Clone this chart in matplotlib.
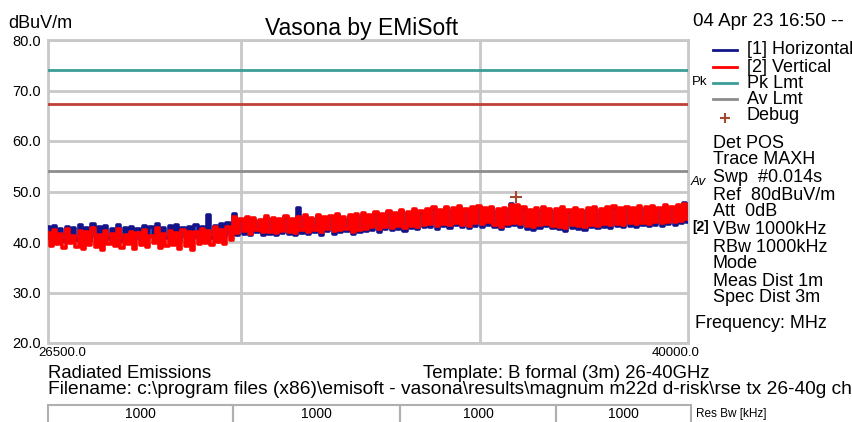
import numpy as np
import matplotlib
matplotlib.use('Agg')
import matplotlib.pyplot as plt
from matplotlib.lines import Line2D
from matplotlib.patches import Rectangle
from matplotlib.ticker import FixedLocator, NullLocator, NullFormatter

plt.rcParams['font.family'] = ['Liberation Sans', 'DejaVu Sans']

# barrido 26.5 - 40 GHz (MHz)
f_start = 26500.0
f_stop = 40000.0
n_puntos = 200

# [2] Vertical (dBuV/m)
vertical = [
    41.8, 39.2, 42.3, 39.6, 41.5, 38.9, 42.6, 39.8, 41.2, 39.0,
    42.1, 38.7, 41.9, 39.5, 42.8, 39.1, 41.4, 38.4, 42.2, 39.7,
    41.6, 39.3, 42.5, 38.9, 41.3, 39.6, 42.0, 38.6, 41.8, 39.4,
    42.4, 39.0, 41.1, 39.8, 42.7, 38.8, 41.5, 39.2, 42.1, 39.5,
    41.7, 38.7, 42.3, 39.3, 41.9, 38.5, 42.0, 39.6, 42.5, 39.8,
    42.2, 39.4, 42.9, 40.0, 42.4, 39.7, 43.0, 40.3,
    44.9, 41.8, 44.6, 42.1, 45.0, 41.6, 44.7, 42.3, 44.4, 41.9,
    45.1, 42.0, 44.8, 41.7, 44.5, 42.2, 45.2, 42.0, 44.6, 41.8,
    45.0, 42.3, 45.3, 42.0, 44.8, 42.4, 45.4, 41.9, 44.9, 42.5,
    45.2, 42.1, 45.6, 42.3, 44.9, 42.6, 45.3, 42.0, 45.5, 42.4,
    45.7, 42.6, 45.4, 42.9, 46.0, 42.5, 45.6, 43.0, 46.2, 42.8,
    45.8, 43.1, 46.4, 42.7, 46.0, 43.2, 46.5, 43.0, 46.1, 43.4,
    46.6, 43.5, 46.9, 43.1, 46.4, 43.6, 47.0, 43.3, 46.7, 43.8,
    47.1, 43.4, 46.6, 43.2, 46.9, 43.7, 47.2, 43.5, 46.8, 43.9,
    47.0, 43.4, 46.5, 43.0, 46.8, 43.6, 47.3, 43.8, 47.4, 43.5,
    46.9, 43.1, 46.4, 42.9, 46.7, 43.3, 47.0, 43.6, 46.6, 43.2,
    46.5, 43.0, 46.9, 42.8, 46.3, 43.3, 46.8, 43.1, 46.4, 42.9,
    46.7, 43.4, 47.0, 43.2, 46.6, 43.5, 46.9, 43.3, 47.1, 43.6,
    46.8, 43.4, 47.0, 43.7, 46.7, 43.5, 47.1, 43.8, 46.9, 43.6,
    47.2, 43.9, 46.8, 43.7, 47.3, 44.0, 47.0, 43.9, 47.4, 44.2,
    47.6, 44.5,
]

# [1] Horizontal (dBuV/m)
horizontal = [
    42.9, 40.5, 43.2, 40.8, 42.6, 40.2, 43.0, 41.0, 42.8, 40.4,
    43.3, 40.7, 42.7, 40.1, 43.5, 40.9, 42.9, 40.3, 43.1, 40.6,
    42.5, 40.8, 43.4, 40.2, 42.8, 40.9, 43.0, 40.5, 42.6, 40.3,
    43.2, 40.7, 42.9, 41.0, 43.6, 40.4, 42.7, 40.8, 43.1, 40.6,
    43.3, 40.2, 42.8, 40.9, 43.0, 40.5, 43.4, 40.7, 42.9, 41.1,
    45.3, 40.8, 43.2, 41.0, 43.6, 40.9, 43.8, 41.4,
    45.5, 41.4, 44.3, 41.6, 44.6, 41.3, 44.4, 41.9, 44.1, 41.4,
    44.8, 41.5, 44.5, 41.3, 44.2, 41.7, 44.9, 41.6, 44.3, 41.3,
    46.7, 41.8, 45.0, 41.5, 44.5, 42.0, 45.1, 41.4, 44.6, 42.1,
    44.9, 41.6, 45.3, 41.9, 44.6, 42.1, 45.0, 41.6, 45.2, 41.9,
    45.4, 42.1, 45.1, 42.4, 45.7, 42.0, 45.3, 42.5, 45.9, 42.3,
    45.5, 42.6, 46.1, 42.2, 45.7, 42.7, 46.2, 42.5, 45.8, 42.9,
    46.3, 43.0, 46.6, 42.6, 46.1, 43.1, 46.7, 42.8, 46.4, 43.3,
    46.8, 42.9, 46.3, 42.7, 46.6, 43.2, 46.9, 43.0, 46.5, 43.4,
    46.7, 42.9, 46.2, 42.5, 46.5, 43.1, 47.6, 43.3, 47.1, 43.0,
    46.6, 42.6, 46.1, 42.3, 46.4, 42.8, 46.7, 43.1, 46.3, 42.7,
    46.2, 42.5, 46.6, 42.2, 46.0, 42.8, 46.5, 42.6, 46.1, 42.3,
    46.4, 42.9, 46.7, 42.7, 46.3, 43.0, 46.6, 42.8, 46.8, 43.1,
    46.5, 42.9, 46.7, 43.2, 46.4, 43.0, 46.8, 43.3, 46.6, 43.1,
    46.9, 43.4, 46.5, 43.2, 47.0, 43.5, 46.7, 43.4, 47.1, 43.7,
    47.8, 44.0,
]

pk_lmt = 74.0
av_lmt = 54.0
otro_lmt = 67.3
debug_f = 35810.0
debug_val = 48.9

y_ticks = [20, 30, 40, 50, 60, 70, 80]
x_grid = [30000, 35000]

info = ['Det POS', 'Trace MAXH', 'Swp  #0.014s', 'Ref  80dBuV/m', 'Att  0dB',
        'VBw 1000kHz', 'RBw 1000kHz', 'Mode', 'Meas Dist 1m', 'Spec Dist 3m']
res_bw = ['1000', '1000', '1000', '1000']

AZUL = '#14148a'
ROJO = '#ff0000'
TEAL = '#3a9e96'
GRIS = '#8c8c8c'
ROJO_OSC = '#c0403a'
GRID = '#c8c8c8'

W, H = 852.0, 422.0


def fx(px):
    return px / W


def fy(py):
    return 1 - py / H


def main():
    fig = plt.figure(figsize=(8.52, 4.22), dpi=100)
    ax = fig.add_axes([fx(48), fy(343), fx(688) - fx(48), fy(40) - fy(343)])

    freq = np.geomspace(f_start, f_stop, n_puntos)

    ax.axhline(pk_lmt, color=TEAL, lw=2, zorder=3)
    ax.axhline(otro_lmt, color=ROJO_OSC, lw=2, zorder=3)
    ax.axhline(av_lmt, color=GRIS, lw=2, zorder=3)
    ax.plot(freq, horizontal, color=AZUL, lw=2.6, drawstyle='steps-mid', zorder=4)
    ax.plot(freq, vertical, color=ROJO, lw=2.6, drawstyle='steps-mid', zorder=5)
    ax.plot([debug_f], [debug_val], '+', color='#a04a30', ms=9, mew=1.5, zorder=6)

    ax.set_xscale('log')
    ax.set_xlim(f_start, f_stop)
    ax.set_ylim(20, 80)
    ax.xaxis.set_major_locator(FixedLocator(x_grid))
    ax.xaxis.set_minor_locator(NullLocator())
    ax.xaxis.set_major_formatter(NullFormatter())
    ax.xaxis.set_minor_formatter(NullFormatter())
    ax.set_yticks(y_ticks)
    ax.set_yticklabels(['%.1f' % v for v in y_ticks], fontsize=10.5)
    ax.tick_params(length=0, pad=5)
    ax.grid(True, color=GRID, lw=2)
    for s in ax.spines.values():
        s.set_color(GRID)
        s.set_linewidth(2)

    # textos de cabecera
    fig.text(fx(8), fy(24), 'dBuV/m', fontsize=13, va='center')
    fig.text(fx(362), fy(28), 'Vasona by EMiSoft', fontsize=16.5, ha='center', va='center')
    fig.text(fx(693), fy(22), '04 Apr 23 16:50 --', fontsize=13.5, va='center')

    # leyenda
    entradas = [('[1] Horizontal', AZUL, 50), ('[2] Vertical', ROJO, 67),
                ('Pk Lmt', TEAL, 83), ('Av Lmt', GRIS, 99)]
    for txt, col, py in entradas:
        fig.add_artist(Line2D([fx(713), fx(737)], [fy(py), fy(py)], color=col, lw=2))
        fig.text(fx(747), fy(py), txt, fontsize=13, va='center')
    fig.add_artist(Line2D([fx(725)], [fy(118)], marker='+', color='#a04a30', ms=7, mew=1.5))
    fig.text(fx(747), fy(115), 'Debug', fontsize=13, va='center')

    fig.text(fx(692), fy(82), 'Pk', fontsize=9.5, va='center')
    fig.text(fx(691), fy(182), 'Av', fontsize=9.5, va='center', style='italic')
    fig.text(fx(692), fy(227), '[2]', fontsize=10, va='center', fontweight='bold')

    posiciones = [143, 160, 178, 195, 212, 230, 248, 264, 281, 298]
    for txt, py in zip(info, posiciones):
        fig.text(fx(713), fy(py), txt, fontsize=13, va='center')
    fig.text(fx(695), fy(324), 'Frequency: MHz', fontsize=13, va='center')

    # pie
    fig.text(fx(38), fy(353), '%.1f' % f_start, fontsize=9.5, va='center')
    fig.text(fx(700), fy(353), '%.1f' % f_stop, fontsize=9.5, va='center', ha='right')
    fig.text(fx(48), fy(373), 'Radiated Emissions', fontsize=13.3, va='center')
    fig.text(fx(423), fy(373), 'Template: B formal (3m) 26-40GHz', fontsize=13.3, va='center')
    fig.text(fx(48), fy(389),
             r'Filename: c:\program files (x86)\emisoft - vasona\results\magnum m22d d-risk\rse tx 26-40g ch',
             fontsize=13.8, va='center')

    bordes = [48, 233, 400, 556, 691]
    for i, val in enumerate(res_bw):
        x0, x1 = bordes[i], bordes[i + 1]
        fig.add_artist(Rectangle((fx(x0), fy(424)), fx(x1) - fx(x0), fy(405) - fy(424),
                                 fill=False, edgecolor='#b0b0b0', lw=1.5))
        fig.text(fx((x0 + x1) / 2), fy(414), val, fontsize=10, ha='center', va='center')
    fig.text(fx(696), fy(414), 'Res Bw [kHz]', fontsize=8.5, va='center')

    fig.savefig('out.png', dpi=100)


if __name__ == '__main__':
    main()
